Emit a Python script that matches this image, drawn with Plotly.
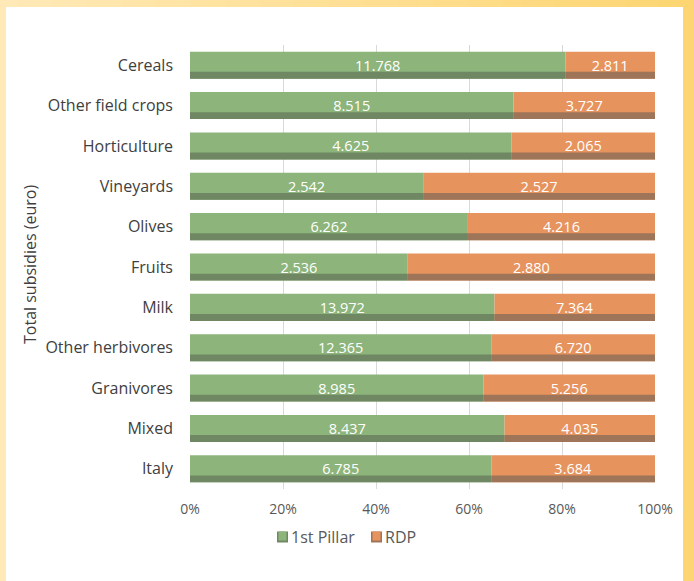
import plotly.graph_objects as go

# Data (bottom to top)
categories = ["Italy", "Mixed", "Granivores", "Other herbivores", "Milk", "Fruits",
              "Olives", "Vineyards", "Horticulture", "Other field crops", "Cereals"]
pillar1 = [6.785, 8.437, 8.985, 12.365, 13.972, 2.536, 6.262, 2.542, 4.625, 8.515, 11.768]
rdp = [3.684, 4.035, 5.256, 6.720, 7.364, 2.880, 4.216, 2.527, 2.065, 3.727, 2.811]
pillar1_labels = ["6.785", "8.437", "8.985", "12.365", "13.972", "2.536", "6.262", "2.542", "4.625", "8.515", "11.768"]
rdp_labels = ["3.684", "4.035", "5.256", "6.720", "7.364", "2.880", "4.216", "2.527", "2.065", "3.727", "2.811"]
series_names = ["1st Pillar", "RDP"]
x_ticks = [0, 0.2, 0.4, 0.6, 0.8, 1.0]
x_tick_labels = ["0%", "20%", "40%", "60%", "80%", "100%"]

totals = [a + b for a, b in zip(pillar1, rdp)]
p1 = [a / t for a, t in zip(pillar1, totals)]
p2 = [b / t for b, t in zip(rdp, totals)]

GREEN = "#8DB47A"
GREEN_DARK = "#6F8863"
ORANGE = "#E6935E"
ORANGE_DARK = "#9E7558"
FONT = "Open Sans, sans-serif"

W, H = 694, 581
L, R, T, B = 190, 39, 45, 92
pw, ph = W - L - R, H - T - B

def px(x):
    return (x - L) / pw

def py(y):
    return (H - B - y) / ph

fig = go.Figure()
BW = 0.67
fig.add_trace(go.Bar(y=categories, x=p1, base=[0] * len(p1), orientation="h", name=series_names[0],
                     marker=dict(color=GREEN, line=dict(width=0)), width=BW,
                     text=pillar1_labels, textposition="inside", insidetextanchor="middle",
                     textfont=dict(color="white", size=14.5, family=FONT), hoverinfo="skip"))
fig.add_trace(go.Bar(y=categories, x=p2, base=p1, orientation="h", name=series_names[1],
                     marker=dict(color=ORANGE, line=dict(width=0)), width=BW,
                     text=rdp_labels, textposition="inside", insidetextanchor="middle",
                     textfont=dict(color="white", size=14.5, family=FONT), hoverinfo="skip"))
# bevel shading strips at bottom of bars
SW = 0.17
fig.add_trace(go.Bar(y=categories, x=p1, base=[0] * len(p1), orientation="h",
                     marker=dict(color=GREEN_DARK, line=dict(width=0)), width=SW, offset=-BW / 2,
                     hoverinfo="skip"))
fig.add_trace(go.Bar(y=categories, x=p2, base=p1, orientation="h",
                     marker=dict(color=ORANGE_DARK, line=dict(width=0)), width=SW, offset=-BW / 2,
                     hoverinfo="skip"))

# background frame with gradient
shapes = []
N = 40
c0 = (0xFF, 0xE9, 0xB6)
c1 = (0xFD, 0xD5, 0x72)
for i in range(N):
    t = i / (N - 1)
    col = "rgb(%d,%d,%d)" % tuple(round(c0[k] + (c1[k] - c0[k]) * t) for k in range(3))
    x0 = W * i / N
    x1 = W * (i + 1) / N + 1
    shapes.append(dict(type="rect", xref="paper", yref="paper", x0=px(x0), x1=px(x1),
                       y0=py(H), y1=py(0), fillcolor=col, line=dict(width=0), layer="below"))
shapes.append(dict(type="rect", xref="paper", yref="paper", x0=px(6), x1=px(683),
                   y0=py(H + 5), y1=py(7), fillcolor="white", line=dict(width=0), layer="below"))

# custom legend
annotations = [dict(text="Total subsidies (euro)", xref="paper", yref="paper",
                    x=px(30), y=py(265), xanchor="center", yanchor="middle", textangle=-90,
                    showarrow=False, font=dict(size=16, color="#404040", family=FONT))]
leg_y = 537
for sx, tx, name, c, cd in [(277, 289, series_names[0], GREEN, GREEN_DARK),
                            (371, 383, series_names[1], ORANGE, ORANGE_DARK)]:
    shapes.append(dict(type="rect", xref="paper", yref="paper", x0=px(sx), x1=px(sx + 11),
                       y0=py(leg_y + 5.5), y1=py(leg_y - 5.5), fillcolor=cd, line=dict(width=0)))
    shapes.append(dict(type="rect", xref="paper", yref="paper", x0=px(sx + 1.5), x1=px(sx + 9.5),
                       y0=py(leg_y + 3.5), y1=py(leg_y - 5.5), fillcolor=c, line=dict(width=0)))
    annotations.append(dict(text=name, xref="paper", yref="paper", x=px(tx), y=py(leg_y),
                            xanchor="left", yanchor="middle", showarrow=False,
                            font=dict(size=16, color="#595959", family=FONT)))

fig.update_layout(
    width=W, height=H,
    margin=dict(l=L, r=R, t=T, b=B),
    barmode="overlay",
    paper_bgcolor="white",
    plot_bgcolor="rgba(0,0,0,0)",
    shapes=shapes,
    font=dict(family=FONT),
    showlegend=False,
    uniformtext=dict(minsize=13, mode="show"),
    annotations=annotations,
)
fig.update_xaxes(range=[0, 1], tickvals=x_ticks, ticktext=x_tick_labels, showgrid=True,
                 gridcolor="#D9D9D9", gridwidth=1, zeroline=False, showline=False,
                 tickfont=dict(size=14, color="#595959"), ticks="", ticklabelstandoff=10,
                 fixedrange=True)
fig.update_yaxes(categoryorder="array", categoryarray=categories, showgrid=False,
                 showline=False, zeroline=False, ticks="", ticklabelstandoff=16,
                 tickfont=dict(size=16, color="#404040"), fixedrange=True)

fig.write_html("out.html")
